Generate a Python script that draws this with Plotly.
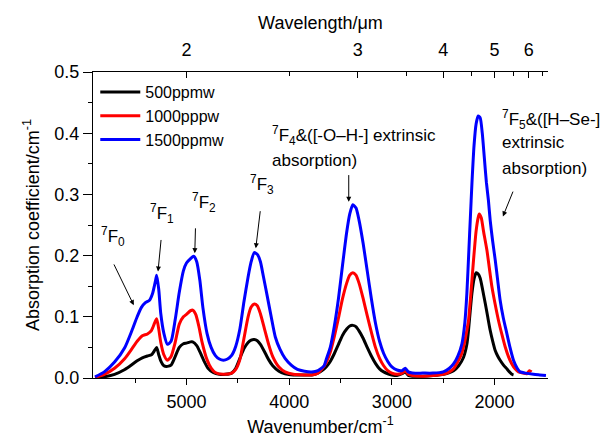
import plotly.graph_objects as go

# Absorption spectra (wavenumber in cm^-1, absorption coefficient in cm^-1)
wn_500 = [5890, 5800, 5700, 5600, 5530, 5480, 5430, 5380, 5340, 5310, 5290, 5270, 5250, 5220,
          5185, 5150, 5110, 5070, 5030, 5000, 4960, 4940, 4900, 4870, 4830, 4790, 4740, 4680,
          4620, 4560, 4520, 4480, 4440, 4400, 4370, 4340, 4310, 4280, 4240, 4200, 4160, 4100,
          4040, 3960, 3850, 3780, 3720, 3680, 3640, 3600, 3560, 3520, 3480, 3440, 3410, 3380,
          3350, 3320, 3280, 3240, 3200, 3160, 3120, 3080, 3040, 3000, 2950, 2900, 2870, 2840,
          2800, 2700, 2600, 2497, 2399, 2350, 2302, 2270, 2254, 2237, 2221, 2200, 2179, 2160,
          2140, 2115, 2091, 2067, 2043, 2018, 1994, 1970, 1946, 1913, 1881, 1855, 1832, 1816]
ab_500 = [0.001, 0.002, 0.006, 0.014, 0.022, 0.028, 0.033, 0.036, 0.038, 0.045, 0.050, 0.038,
          0.028, 0.020, 0.019, 0.021, 0.035, 0.050, 0.056, 0.057, 0.059, 0.059, 0.053, 0.043,
          0.028, 0.016, 0.009, 0.006, 0.006, 0.008, 0.016, 0.032, 0.048, 0.058, 0.062, 0.063,
          0.061, 0.055, 0.043, 0.030, 0.020, 0.011, 0.007, 0.005, 0.005, 0.005, 0.008, 0.012,
          0.018, 0.027, 0.040, 0.055, 0.070, 0.080, 0.085, 0.086, 0.084, 0.077, 0.065, 0.050,
          0.036, 0.024, 0.015, 0.010, 0.007, 0.005, 0.004, 0.007, 0.010, 0.004, 0.003, 0.003,
          0.004, 0.006, 0.012, 0.020, 0.034, 0.055, 0.078, 0.110, 0.138, 0.162, 0.172, 0.170,
          0.163, 0.143, 0.122, 0.100, 0.078, 0.060, 0.045, 0.036, 0.029, 0.021, 0.015, 0.010,
          0.006, 0.005]

wn_1000 = [5890, 5800, 5700, 5600, 5530, 5480, 5430, 5380, 5340, 5310, 5290, 5270, 5250, 5220,
           5185, 5150, 5110, 5070, 5030, 5000, 4960, 4940, 4910, 4880, 4850, 4800, 4760, 4720,
           4640, 4560, 4520, 4480, 4440, 4400, 4370, 4340, 4310, 4280, 4240, 4200, 4160, 4100,
           4040, 3960, 3850, 3780, 3720, 3680, 3640, 3600, 3560, 3520, 3480, 3440, 3410, 3380,
           3350, 3320, 3280, 3240, 3200, 3160, 3120, 3080, 3040, 3000, 2950, 2900, 2870, 2840,
           2800, 2700, 2600, 2500, 2440, 2400, 2360, 2320, 2290, 2270, 2254, 2230, 2205, 2180,
           2160, 2150, 2130, 2108, 2075, 2026, 1994, 1962, 1930, 1897, 1865, 1832, 1800, 1767,
           1720, 1686, 1660, 1640]
ab_1000 = [0.001, 0.006, 0.016, 0.032, 0.048, 0.060, 0.069, 0.072, 0.078, 0.090, 0.097, 0.080,
           0.058, 0.038, 0.029, 0.035, 0.058, 0.088, 0.100, 0.104, 0.110, 0.111, 0.104, 0.085,
           0.060, 0.030, 0.016, 0.009, 0.006, 0.008, 0.014, 0.030, 0.065, 0.100, 0.116, 0.121,
           0.118, 0.105, 0.080, 0.055, 0.035, 0.018, 0.010, 0.006, 0.005, 0.005, 0.008, 0.015,
           0.025, 0.042, 0.068, 0.098, 0.130, 0.155, 0.168, 0.172, 0.168, 0.155, 0.130, 0.102,
           0.075, 0.050, 0.032, 0.020, 0.012, 0.008, 0.006, 0.008, 0.012, 0.006, 0.004, 0.003,
           0.004, 0.006, 0.010, 0.015, 0.026, 0.040, 0.060, 0.078, 0.094, 0.140, 0.193, 0.240,
           0.262, 0.268, 0.262, 0.240, 0.209, 0.149, 0.120, 0.094, 0.072, 0.051, 0.035, 0.023,
           0.015, 0.010, 0.008, 0.007, 0.012, 0.010]

wn_1500 = [5890, 5800, 5700, 5600, 5530, 5480, 5440, 5400, 5360, 5330, 5300, 5290, 5270, 5250,
           5220, 5185, 5150, 5110, 5070, 5030, 5000, 4960, 4930, 4900, 4870, 4840, 4800, 4760,
           4720, 4680, 4640, 4600, 4560, 4520, 4480, 4440, 4400, 4370, 4340, 4310, 4280, 4250,
           4215, 4175, 4135, 4090, 4040, 3980, 3920, 3850, 3780, 3720, 3660, 3640, 3600, 3560,
           3520, 3480, 3440, 3410, 3380, 3350, 3320, 3280, 3240, 3200, 3160, 3120, 3080, 3040,
           3000, 2950, 2900, 2870, 2840, 2800, 2700, 2600, 2500, 2440, 2400, 2360, 2318, 2290,
           2270, 2250, 2237, 2220, 2200, 2180, 2160, 2140, 2120, 2100, 2080, 2060, 2043, 2020,
           1994, 1970, 1946, 1915, 1881, 1850, 1816, 1780, 1751, 1700, 1621, 1560, 1500]
ab_1500 = [0.002, 0.010, 0.026, 0.050, 0.078, 0.100, 0.115, 0.123, 0.127, 0.138, 0.160, 0.168,
           0.145, 0.105, 0.073, 0.055, 0.060, 0.095, 0.140, 0.175, 0.188, 0.195, 0.199, 0.190,
           0.160, 0.115, 0.073, 0.050, 0.037, 0.031, 0.029, 0.031, 0.037, 0.052, 0.080, 0.125,
           0.165, 0.190, 0.205, 0.202, 0.190, 0.165, 0.135, 0.100, 0.067, 0.047, 0.032, 0.021,
           0.014, 0.011, 0.010, 0.012, 0.020, 0.030, 0.050, 0.085, 0.130, 0.185, 0.238, 0.268,
           0.283, 0.278, 0.258, 0.220, 0.175, 0.130, 0.090, 0.060, 0.040, 0.027, 0.018, 0.013,
           0.012, 0.016, 0.010, 0.008, 0.008, 0.008, 0.010, 0.016, 0.023, 0.035, 0.056, 0.090,
           0.138, 0.210, 0.258, 0.320, 0.380, 0.415, 0.428, 0.425, 0.400, 0.360, 0.320, 0.290,
           0.258, 0.225, 0.193, 0.160, 0.127, 0.098, 0.073, 0.050, 0.029, 0.016, 0.010, 0.008,
           0.006, 0.005, 0.004]

series_names = ["500ppmw", "1000pppw", "1500ppmw"]
series_colors = ["#000000", "#ff0000", "#0000ff"]
# the last series is drawn against the top (wavelength) axis, which shares the same range
series_xaxes = ["x", "x", "x2"]

# Top axis: wavelength in micrometres
wl_major = [2, 3, 4, 5, 6]
wl_minor = [2.5, 3.5, 4.5, 5.5, 6.5]

X_RANGE = [5910, 1480]
FONT = "Liberation Sans, Arial, sans-serif"

fig = go.Figure()
for wn, ab, name, color, xa in zip([wn_500, wn_1000, wn_1500], [ab_500, ab_1000, ab_1500],
                                   series_names, series_colors, series_xaxes):
    fig.add_trace(go.Scatter(x=wn, y=ab, mode="lines", name=name, xaxis=xa, yaxis="y",
                             line=dict(color=color, width=3, shape="spline", smoothing=0.6)))

axis_common = dict(showline=True, linecolor="black", linewidth=1, showgrid=False,
                   zeroline=False, tickcolor="black", automargin=False,
                   tickfont=dict(size=18, color="black"))

fig.update_layout(
    width=605, height=440,
    margin=dict(l=93, r=57, t=72, b=62),
    paper_bgcolor="white", plot_bgcolor="white",
    font=dict(family=FONT, color="black", size=18),
    xaxis=dict(range=X_RANGE, tickvals=[5000, 4000, 3000, 2000], ticks="outside", ticklen=6,
               ticklabelstandoff=1,
               minor=dict(tickvals=[5500, 4500, 3500, 2500], ticks="outside", ticklen=4,
                          tickcolor="black"),
               title=dict(text="Wavenumber/cm<sup>-1</sup>", font=dict(size=18), standoff=9),
               **axis_common),
    xaxis2=dict(range=X_RANGE, overlaying="x", side="top", anchor="y",
                tickvals=[10000 / w for w in wl_major], ticktext=[str(w) for w in wl_major],
                ticks="inside", ticklen=6, ticklabelstandoff=8,
                minor=dict(tickvals=[10000 / w for w in wl_minor], ticks="inside", ticklen=4,
                           tickcolor="black"),
                title=dict(text="Wavelength/\u03bcm", font=dict(size=18), standoff=5),
                **axis_common),
    yaxis=dict(range=[0, 0.5], dtick=0.1, tickformat=".1f", ticks="outside", ticklen=9,
               minor=dict(dtick=0.05, ticks="outside", ticklen=4, tickcolor="black"),
               title=dict(text="Absorption coefficient/cm<sup>-1</sup>", font=dict(size=18),
                          standoff=10),
               **axis_common),
    legend=dict(x=0.005, y=0.99, xanchor="left", yanchor="top", bgcolor="rgba(0,0,0,0)",
                font=dict(size=16), itemwidth=40, tracegroupgap=0),
    showlegend=True,
)

# Peak labels
labels = [
    ("<sup>7</sup>F<sub>0</sub>", 5856, 0.232),
    ("<sup>7</sup>F<sub>1</sub>", 5379, 0.268),
    ("<sup>7</sup>F<sub>2</sub>", 4961, 0.286),
    ("<sup>7</sup>F<sub>3</sub>", 4397, 0.317),
    ("<sup>7</sup>F<sub>4</sub>&amp;([-O\u2013H-] extrinsic", 4183, 0.396),
    ("absorption)", 4183, 0.356),
    ("<sup>7</sup>F<sub>5</sub>&amp;([H\u2013Se-]", 1946, 0.422),
    ("extrinsic", 1946, 0.384),
    ("absorption)", 1946, 0.343),
]
for text, x, y in labels:
    fig.add_annotation(x=x, y=y, xref="x", yref="y", text=text, showarrow=False,
                       xanchor="left", yanchor="middle", font=dict(size=17, color="black"))

# Arrows pointing at the bands: (tail_x, tail_y, head_x, head_y)
arrows = [
    (5713, 0.188, 5513, 0.119),
    (5246, 0.228, 5277, 0.174),
    (4912, 0.247, 4919, 0.204),
    (4280, 0.275, 4325, 0.212),
    (3420, 0.334, 3420, 0.288),
    (1815, 0.307, 1919, 0.264),
]
for tx, ty, hx, hy in arrows:
    fig.add_annotation(x=hx, y=hy, ax=tx, ay=ty, xref="x", yref="y", axref="x", ayref="y",
                       text="", showarrow=True, arrowhead=2, arrowsize=1, arrowwidth=1,
                       arrowcolor="black", standoff=0, startstandoff=0)

fig.write_html("out.html")
